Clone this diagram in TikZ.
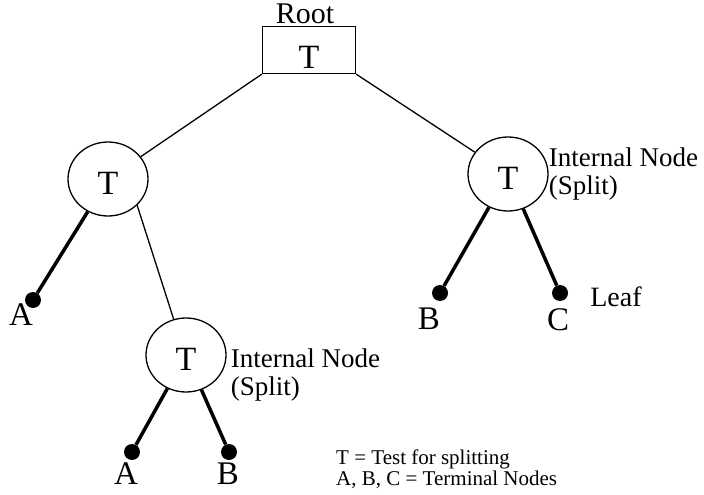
\documentclass[tikz,border=0pt]{standalone}
\usepackage{fontspec}
\setmainfont{Liberation Serif}
\usetikzlibrary{positioning, shapes.geometric}

\begin{document}
\begin{tikzpicture}[
  x=1pt, y=-1pt,
  node distance=0pt,
  test/.style={ellipse, draw, line width=1.3pt, minimum width=80pt, minimum height=74pt, inner sep=0pt, text height=30pt, text depth=0pt, font=\fontsize{34}{36}\selectfont},
  rootbox/.style={rectangle, draw, line width=1.3pt, minimum width=93pt, minimum height=47pt, inner sep=0pt, text height=36pt, text depth=0pt, font=\fontsize{34}{36}\selectfont},
  leaf/.style={circle, fill=black, minimum size=16pt, inner sep=0pt},
  term/.style={inner sep=0pt, font=\fontsize{33}{36}\selectfont},
  note/.style={align=left, inner sep=0pt, font=\fontsize{27}{28}\selectfont},
  link/.style={line width=1.3pt},
  leafline/.style={line width=3.5pt}
]
\useasboundingbox (0,0) rectangle (704,495);

% tree nodes
\node[rootbox] (root) at (309,50) {T};
\node[inner sep=0pt, font=\fontsize{30}{32}\selectfont] (rootlabel) at (305,14) {Root};
\node[test] (tl) at (108,179) {T};
\node[test] (tr) at (508,174) {T};
\node[test] (bt) at (186,355) {T};

% terminal nodes
\node[leaf] (la1) at (33,300) {};
\node[leaf] (lb1) at (440,293) {};
\node[leaf] (lc1) at (560,293) {};
\node[leaf] (la2) at (132,452) {};
\node[leaf] (lb2) at (229,452) {};

\node[term] (ta1) at (21,315) {A};
\node[term] (tb1) at (429,319) {B};
\node[term] (tc1) at (558,320) {C};
\node[term] (ta2) at (126,474) {A};
\node[term] (tb2) at (228,474) {B};
\node[inner sep=0pt, font=\fontsize{28}{30}\selectfont] (leaftext) at (616,297) {Leaf};

% notes
\node[note, right=0pt of tr] (trnote) {Internal Node\\(Split)};
\node[note, right=4pt of bt, yshift=-20pt] (btnote) {Internal Node\\(Split)};
\node[align=left, inner sep=0pt, anchor=north west, font=\fontsize{21}{15}\selectfont] (legend) at (336,450)
  {T = Test for splitting\\A, B, C = Terminal Nodes};

% connectors
\draw[link] (root.south west) -- (tl);
\draw[link] (root.south east) -- (tr);
\draw[link] (tl.-42) -- (bt.109);
\draw[leafline] (tl) -- (la1);
\draw[leafline] (tr) -- (lb1);
\draw[leafline] (tr) -- (lc1);
\draw[leafline] (bt) -- (la2);
\draw[leafline] (bt) -- (lb2);
\end{tikzpicture}
\end{document}
